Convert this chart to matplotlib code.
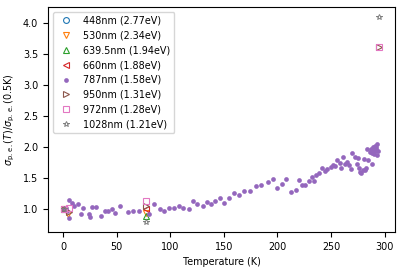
import numpy as np
import matplotlib
matplotlib.use("Agg")
import matplotlib.pyplot as plt

# discrete wavelength measurements (T in K, normalised sigma_pe)
labels = ["448nm (2.77eV)", "530nm (2.34eV)", "639.5nm (1.94eV)", "660nm (1.88eV)",
          "787nm (1.58eV)", "950nm (1.31eV)", "972nm (1.28eV)", "1028nm (1.21eV)"]
markers = ["o", "v", "^", "<", ".", ">", "s", "*"]

t_448 = [0.5]
v_448 = [1.0]
t_530 = [0.5, 4.0, 77]
v_530 = [1.0, 0.93, 0.94]
t_639 = [0.5, 77]
v_639 = [1.0, 0.89]
t_660 = [0.5, 77]
v_660 = [1.0, 1.0]
t_950 = [0.5, 5.0, 77, 295]
v_950 = [1.0, 0.96, 1.05, 3.62]
t_972 = [0.5, 5.0, 77, 295]
v_972 = [1.0, 1.02, 1.13, 3.62]
t_1028 = [0.5, 77, 295]
v_1028 = [1.0, 0.80, 4.10]

# 787nm temperature scan
t_787 = [0.3, 1.5, 2.5, 3.5, 5, 5.6, 8, 10, 14, 16, 18, 24, 25, 27, 30, 35, 39, 42, 45, 48,
         53, 60, 65, 71, 80, 85, 90, 94, 99, 103, 108, 112, 117, 121, 125, 130, 134, 138,
         142, 146, 150, 155, 159, 164, 169, 174, 180, 185, 191, 196, 200, 204, 208, 213,
         217, 220, 223, 226, 229, 232, 234, 236, 239, 242, 244, 246, 250, 252, 254, 256,
         258, 259, 261, 263, 265, 267, 269, 270, 272, 274, 275, 276, 277, 278, 280, 281,
         282, 283, 284, 285, 286, 287, 288, 288.5, 289.5, 290, 290.5, 291.5, 292, 293,
         293, 293.5, 292.5, 291, 289]
v_787 = [1.00, 0.99, 1.02, 0.97, 1.15, 0.86, 1.10, 1.05, 1.08, 0.92, 1.02, 0.92, 0.88,
         1.04, 1.04, 0.90, 0.97, 0.98, 1.01, 0.94, 1.05, 0.96, 0.97, 0.98, 0.93, 1.09,
         1.00, 0.97, 1.02, 1.02, 1.06, 1.02, 1.00, 1.14, 1.08, 1.06, 1.12, 1.09, 1.14,
         1.19, 1.10, 1.18, 1.27, 1.23, 1.30, 1.30, 1.38, 1.40, 1.44, 1.49, 1.34, 1.41,
         1.49, 1.28, 1.31, 1.48, 1.40, 1.40, 1.46, 1.53, 1.46, 1.55, 1.58, 1.67, 1.62,
         1.65, 1.69, 1.72, 1.70, 1.79, 1.75, 1.67, 1.85, 1.74, 1.77, 1.72, 1.65, 1.91,
         1.85, 1.74, 1.83, 1.66, 1.60, 1.58, 1.63, 1.82, 1.63, 1.66, 1.98, 1.80, 1.92,
         1.97, 1.74, 1.91, 2.01, 1.96, 1.90, 2.02, 1.98, 2.05, 1.87, 1.94, 2.00, 1.95,
         1.93]

series = [(t_448, v_448), (t_530, v_530), (t_639, v_639), (t_660, v_660),
          (t_787, v_787), (t_950, v_950), (t_972, v_972), (t_1028, v_1028)]

plt.rcParams["font.size"] = 6.9
fig = plt.figure(figsize=(4.03, 2.72), dpi=100)
ax = fig.add_axes([0.119, 0.147, 0.861, 0.827])

colors = plt.rcParams["axes.prop_cycle"].by_key()["color"]
for i, ((t, v), lab, m) in enumerate(zip(series, labels, markers)):
    c = colors[i]
    if m == ".":
        ax.plot(t, v, "o", color=c, markersize=3.4, markeredgewidth=0, label=lab)
    elif m == "*":
        ax.plot(t, v, m, color=c, mfc="none", markersize=4.2, markeredgewidth=0.7, label=lab)
    else:
        ax.plot(t, v, m, color=c, mfc="none", markersize=4.2, markeredgewidth=0.8, label=lab)

ax.set_xlabel("Temperature (K)")
ax.set_ylabel(r"$\sigma_{\rm p.\,e.}(T)/\sigma_{\rm p.\,e.}$(0.5K)")
ax.legend(loc="upper left")
fig.savefig("out.png", dpi=100)
